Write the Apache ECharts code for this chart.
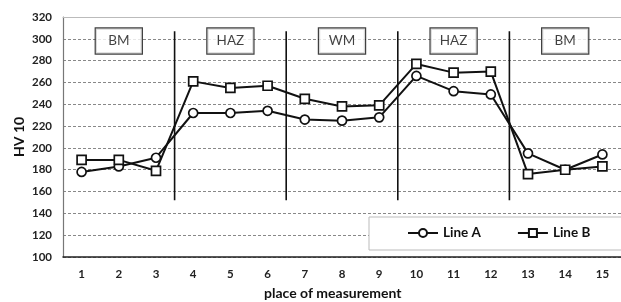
<!DOCTYPE html>
<html>
<head>
<meta charset="utf-8">
<script src="https://cdn.jsdelivr.net/npm/echarts@6/dist/echarts.min.js"></script>
<style>html,body{margin:0;padding:0;background:#fff;}#c{width:621px;height:302px;}</style>
</head>
<body>
<div id="c"></div>
<script>
const categories = ['1','2','3','4','5','6','7','8','9','10','11','12','13','14','15'];
const lineA = [178, 183, 191, 232, 232, 234, 226, 225, 228, 266, 252, 249, 195, 180, 194];
const lineB = [189, 189, 179, 261, 255, 257, 245, 238, 239, 277, 269, 270, 176, 180, 183];
const dividerX = [3.5, 6.5, 9.5, 12.5];
const dividerRange = [152, 307];
const zoneNames = ['BM', 'HAZ', 'WM', 'HAZ', 'BM'];
const zoneCenters = [2, 5, 8, 11, 14];
const zoneLevel = 298;

const font = 'Lato, "Open Sans", sans-serif';
const chart = echarts.init(document.getElementById('c'));

const dividerSeries = dividerX.map(x => ({
  type: 'line', xAxisIndex: 1, yAxisIndex: 0, symbol: 'none', silent: true,
  lineStyle: { color: '#111', width: 1.6 },
  data: [[x, dividerRange[0]], [x, dividerRange[1]]], z: 3
}));

chart.setOption({
  animation: false,
  backgroundColor: '#fff',
  textStyle: { fontFamily: font },
  grid: { left: 63, top: 17, width: 565.5, height: 240 },
  legend: {
    left: 407, top: 217, orient: 'horizontal',
    padding: [9, 0, 9, 0], itemGap: 36,
    itemWidth: 30, itemHeight: 10, z: 10,
    textStyle: { fontFamily: font, fontWeight: 'bold', fontSize: 13.5, color: '#111' },
    data: ['Line A', 'Line B']
  },
  xAxis: [{
    type: 'category', data: categories, boundaryGap: true,
    axisLine: { lineStyle: { color: '#222', width: 1.5 } },
    axisTick: { show: false },
    axisLabel: { margin: 11, color: '#222', fontWeight: 'bold', fontSize: 11.5, fontFamily: font }
  }, {
    type: 'value', min: 0.5, max: 15.5, position: 'top', show: true,
    axisLine: { show: true, lineStyle: { color: '#bbb', width: 1 } },
    axisTick: { show: false }, axisLabel: { show: false }, splitLine: { show: false }
  }],
  yAxis: {
    type: 'value', min: 100, max: 320, interval: 20,
    axisLine: { show: true, lineStyle: { color: '#777', width: 1.2 } },
    axisTick: { show: false },
    axisLabel: { margin: 11, color: '#222', fontWeight: 'bold', fontSize: 11.5, fontFamily: font },
    splitLine: { show: true, lineStyle: { color: '#888', type: [3, 2], width: 1 } }
  },
  graphic: [
    { type: 'rect', z: 8, shape: { x: 369, y: 217, width: 270, height: 33 },
      style: { fill: '#fff', stroke: '#bbb', lineWidth: 1 } },
    { type: 'text', left: 264, top: 286, style: { text: 'place of measurement', font: 'bold 14px ' + font, fill: '#111' } },
    { type: 'text', x: 12, y: 157, rotation: Math.PI / 2, style: { text: 'HV 10', font: 'bold 14px ' + font, fill: '#111' } }
  ],
  series: [
    ...dividerSeries,
    {
      type: 'scatter', xAxisIndex: 1, symbolSize: 0, silent: true, z: 4,
      data: zoneCenters.map((c, i) => ({ value: [c, zoneLevel], name: zoneNames[i] })),
      label: {
        show: true, position: 'inside', formatter: p => p.name,
        fontSize: 13.5, color: '#111', fontFamily: font,
        width: 46, height: 25, align: 'center', verticalAlign: 'middle', lineHeight: 25,
        backgroundColor: '#fff', borderColor: '#111', borderWidth: 1.2
      }
    },
    {
      name: 'Line A', type: 'line', data: lineA, symbol: 'circle', symbolSize: 9,
      lineStyle: { color: '#111', width: 2 },
      itemStyle: { color: '#fff', borderColor: '#111', borderWidth: 1.7 }, z: 5
    },
    {
      name: 'Line B', type: 'line', data: lineB, symbol: 'rect', symbolSize: 9,
      lineStyle: { color: '#111', width: 2 },
      itemStyle: { color: '#fff', borderColor: '#111', borderWidth: 1.7 }, z: 5
    }
  ]
});
</script>
</body>
</html>
